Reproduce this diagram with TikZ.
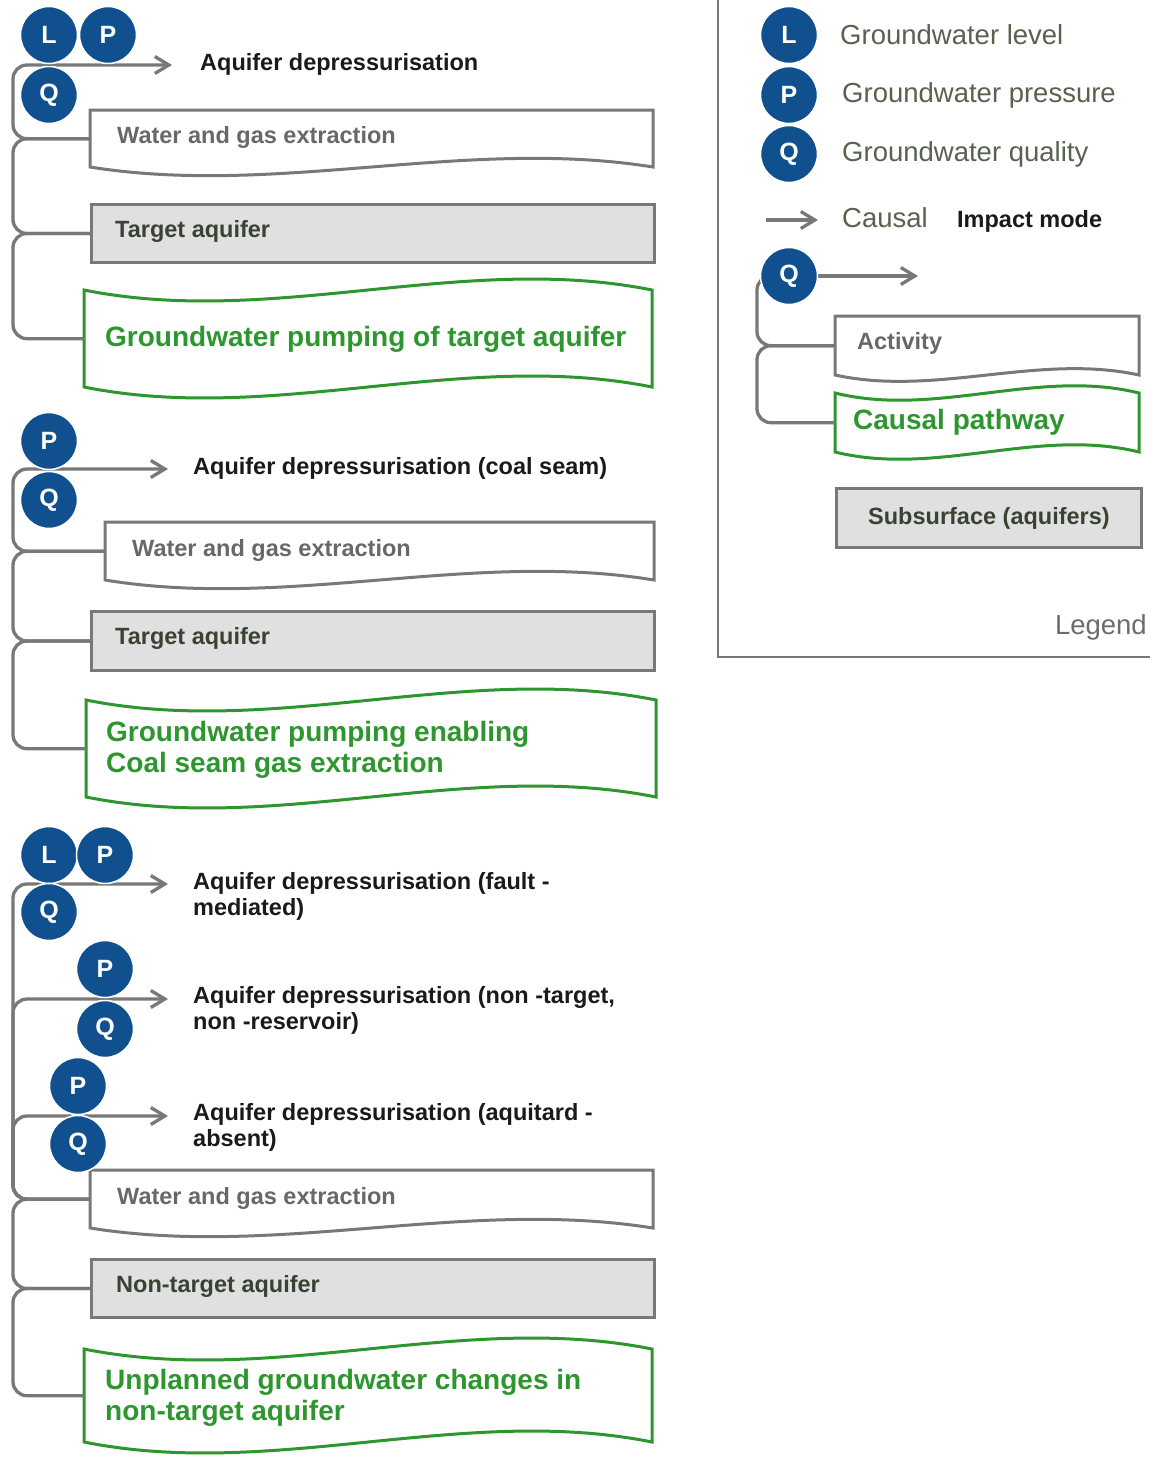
\documentclass[tikz,border=0pt]{standalone}
\usepackage{fontspec}
\setmainfont{Liberation Sans}
\usetikzlibrary{arrows.meta,calc}
\definecolor{qblue}{HTML}{10508F}
\definecolor{lgray}{HTML}{787878}
\definecolor{boxfill}{HTML}{E0E0E0}
\definecolor{pgreen}{HTML}{2E962E}
\definecolor{txgray}{HTML}{686868}
\definecolor{txolive}{HTML}{3A4333}
\definecolor{legtx}{HTML}{58624F}
\definecolor{txblack}{HTML}{1A1A1A}
\tikzset{
  conn/.style={draw=lgray, line width=3.3pt, rounded corners=14pt},
  arrS/.style={conn, {Straight Barb[length=14pt,width=17pt,line width=3.3pt]}-},
  arrE/.style={conn, -{Straight Barb[length=14pt,width=17pt,line width=3.3pt]}},
  docbox/.style={draw=lgray, line width=3pt, fill=white, line join=miter},
  greenbox/.style={draw=pgreen, line width=3pt, fill=white},
  grect/.style={draw=lgray, line width=3pt, fill=boxfill, inner sep=0pt},
  anchorbox/.style={inner sep=0pt},
  circ/.style={circle, fill=qblue, draw=white, line width=1.5pt, minimum size=57pt, inner sep=0pt, text=white, font=\fontsize{25}{25}\selectfont\bfseries},
  gtxt/.style={text=txgray, font=\fontsize{23.5}{26}\selectfont\bfseries, inner sep=0pt, anchor=west},
  otxt/.style={text=txolive, font=\fontsize{23.5}{26}\selectfont\bfseries, inner sep=0pt, anchor=west},
  btxt/.style={text=txblack, font=\fontsize{23.5}{26}\selectfont\bfseries, inner sep=0pt, anchor=west, align=left},
  grtxt/.style={text=pgreen, font=\fontsize{28}{31}\selectfont\bfseries, inner sep=0pt, anchor=west, align=left},
  ltxt/.style={text=legtx, font=\fontsize{27.5}{30}\selectfont, inner sep=0pt, anchor=west},
  legline/.style={draw=lgray, line width=2.5pt},
}
% document shape: wavy bottom
\newcommand\wdoc[7]{%
  \draw[#7] (#2,#3) -- (#4,#3) -- (#4,#5) .. controls ({#4-(#4-#2)/3},{#5-#6}) and ({#2+(#4-#2)/3},{#5+#6}) .. (#2,#5) -- cycle;
  \node[anchorbox, minimum width={#4-#2}, minimum height={#5-#3}, anchor=north west] (#1) at (#2,#3) {};
}
% tape shape: wavy top and bottom
\newcommand\wtape[7]{%
  \draw[#7] (#2,#3) .. controls ({#2+(#4-#2)/3},{#3+#6}) and ({#4-(#4-#2)/3},{#3-#6}) .. (#4,#3) -- (#4,#5) .. controls ({#4-(#4-#2)/3},{#5-#6}) and ({#2+(#4-#2)/3},{#5+#6}) .. (#2,#5) -- cycle;
  \node[anchorbox, minimum width={#4-#2}, minimum height={#5-#3}, anchor=north west] (#1) at (#2,#3) {};
}
\begin{document}
\begin{tikzpicture}[x=1pt,y=-1pt]
\fill[white] (0,0) rectangle (1149,1457);
\useasboundingbox (0,0) rectangle (1149,1457);
\coordinate (s) at (13,0);
\coordinate (sL) at (757,0);

% ---------------- Section 1 ----------------
\wdoc{w1}{90}{110}{653}{167}{30}{docbox}
\node[gtxt] (w1t) at (117,137) {Water and gas extraction};
\node[grect, minimum width=563, minimum height=58, anchor=north west] (t1) at (90,203) {};
\node[otxt] (t1t) at (115,231) {Target aquifer};
\wtape{g1}{84}{290}{652}{387}{38}{greenbox}
\node[grtxt] (g1t) at (105,339) {Groundwater pumping of target aquifer};
\coordinate (e1) at (172,65);
\node[btxt] (d1) at (200,64) {Aquifer depressurisation};
\draw[arrS] (e1) -- (e1 -| s) |- (w1.west);
\draw[conn] (w1.west) -- (w1.west -| s) |- (t1.west);
\draw[conn] (t1.west) -- (t1.west -| s) |- (g1.west);
\node[circ] (c1l) at (49,35) {L};
\node[circ] (c1p) at (108,35) {P};
\node[circ] (c1q) at (49,95) {Q};

% ---------------- Section 2 ----------------
\wdoc{w2}{105}{522}{654}{580}{30}{docbox}
\node[gtxt] (w2t) at (132,550) {Water and gas extraction};
\node[grect, minimum width=563, minimum height=59, anchor=north west] (t2) at (90,610) {};
\node[otxt] (t2t) at (115,638) {Target aquifer};
\wtape{g2}{86}{700}{656}{797}{38}{greenbox}
\node[grtxt] (g2t) at (106,749.5) {Groundwater pumping enabling\\Coal seam gas extraction};
\coordinate (e2) at (168,469);
\node[btxt] (d2) at (193,468) {Aquifer depressurisation (coal seam)};
\draw[arrS] (e2) -- (e2 -| s) |- (w2.west);
\draw[conn] (w2.west) -- (w2.west -| s) |- (t2.west);
\draw[conn] (t2.west) -- (t2.west -| s) |- (g2.west);
\node[circ] (c2p) at (49,441) {P};
\node[circ] (c2q) at (49,500) {Q};

% ---------------- Section 3 ----------------
\wdoc{w3}{90}{1170}{653}{1228}{30}{docbox}
\node[gtxt] (w3t) at (117,1198) {Water and gas extraction};
\node[grect, minimum width=563, minimum height=58, anchor=north west] (nt) at (90,1258) {};
\node[otxt] (ntt) at (116,1286) {Non-target aquifer};
\wtape{g3}{84}{1349}{652}{1442}{38}{greenbox}
\node[grtxt] (g3t) at (105,1397.5) {Unplanned groundwater changes in\\non-target aquifer};
\coordinate (e3) at (168,884);
\coordinate (e4) at (168,999);
\coordinate (e5) at (168,1116);
\node[btxt] (d3) at (193,896) {Aquifer depressurisation (fault -\\mediated)};
\node[btxt] (d4) at (193,1010.5) {Aquifer depressurisation (non -target,\\non -reservoir)};
\node[btxt] (d5) at (193,1127) {Aquifer depressurisation (aquitard -\\absent)};
\draw[arrS] (e3) -- (e3 -| s) |- (w3.west);
\draw[arrS] (e4) -- (e4 -| s) |- (w3.west);
\draw[arrS] (e5) -- (e5 -| s) |- (w3.west);
\draw[conn] (w3.west) -- (w3.west -| s) |- (nt.west);
\draw[conn] (nt.west) -- (nt.west -| s) |- (g3.west);
\node[circ] (c3l) at (49,855) {L};
\node[circ] (c3p) at (105,855) {P};
\node[circ] (c3q) at (49,912) {Q};
\node[circ] (c4p) at (105,969) {P};
\node[circ] (c4q) at (105,1029) {Q};
\node[circ] (c5p) at (78,1086) {P};
\node[circ] (c5q) at (78,1144) {Q};

% ---------------- Legend ----------------
\draw[legline] (718,-5) -- (718,657) -- (1155,657);
\node[ltxt] (lglev) at (840,35) {Groundwater level};
\node[ltxt] (lgpre) at (842,95) {Groundwater pressure};
\node[ltxt] (lgqua) at (842,154) {Groundwater quality};
\coordinate (lc1) at (766,220);
\coordinate (lc2) at (818,220);
\draw[arrE] (lc1) -- (lc2);
\node[ltxt] (lgcau) at (842,218) {Causal};
\node[btxt] (lgimp) at (957,221) {Impact mode};
\coordinate (lqe) at (918,276);
\wdoc{act}{835}{316}{1139}{375}{22}{docbox}
\node[gtxt] (actt) at (857,343) {Activity};
\wtape{cp}{835}{393}{1139}{452}{25}{greenbox}
\node[grtxt] (cpt) at (853,422) {Causal pathway};
\node[grect, minimum width=305, minimum height=59, anchor=north west] (sub) at (835,487) {};
\node[otxt, anchor=center] (subt) at (sub.center) {Subsurface (aquifers)};
\node[ltxt, anchor=east, text=lgray!90!black] (leg) at (1147,627) {Legend};
\node[circ] (lql) at (789,35) {L};
\node[circ] (lqp) at (789,95) {P};
\coordinate (lq0) at (789,276);
\draw[arrE] (lq0) -- (lqe);
\draw[conn] (lq0) -- (lq0 -| sL) |- (act.west);
\draw[conn] (act.west) -- (act.west -| sL) |- (cp.west);
\node[circ] (lqq) at (789,154) {Q};
\node[circ] (lqq2) at (lq0) {Q};
\end{tikzpicture}
\end{document}
